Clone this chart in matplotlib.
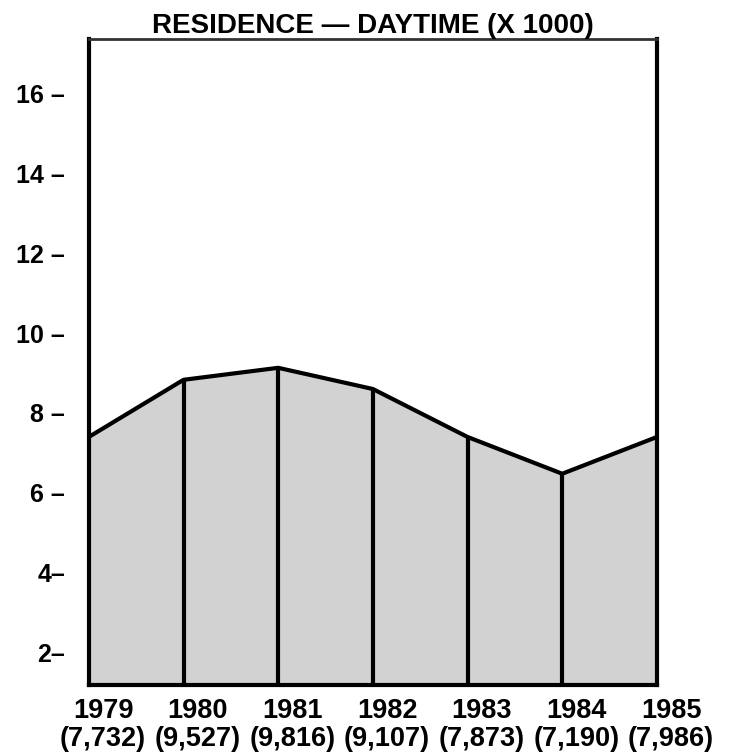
import matplotlib
matplotlib.use('Agg')
from matplotlib import pyplot as plt
from matplotlib import transforms

plt.rcParams['font.family'] = ['Liberation Sans', 'DejaVu Sans']
plt.rcParams['font.weight'] = 'bold'

# data
years = ['1979', '1980', '1981', '1982', '1983', '1984', '1985']
counts = ['7,732', '9,527', '9,816', '9,107', '7,873', '7,190', '7,986']
heights = [7.4, 8.83, 9.13, 8.6, 7.4, 6.48, 7.4]   # plotted level (x 1000)
ytick_vals = [2, 4, 6, 8, 10, 12, 14, 16]
ytick_text = ['2–', '4–', '6 –', '8 –', '10 –', '12 –', '14 –', '16 –']

fig = plt.figure(figsize=(7.34, 7.55), dpi=100)
ax = fig.add_axes([0.121, 0.093, 0.774, 0.855])

x = list(range(len(years)))
ymin, ymax = 1.2, 17.35

ax.fill_between(x, heights, ymin, color='#d2d2d2', lw=0)
ax.plot(x, heights, color='black', lw=3, solid_joinstyle='round')
ax.vlines(x[1:-1], ymin, heights[1:-1], color='black', lw=3)

ax.set_xlim(0, len(years) - 1)
ax.set_ylim(ymin, ymax)

for s in ['left', 'right', 'bottom']:
    ax.spines[s].set_linewidth(3)
ax.spines['top'].set_linewidth(2)
ax.spines['top'].set_color('#333333')

ax.set_xticks([])
ax.set_yticks(ytick_vals)
ax.set_yticklabels(ytick_text, fontsize=18, fontweight='bold')
ax.tick_params(axis='y', length=0, pad=17)

trans = transforms.blended_transform_factory(ax.transData, ax.transAxes)
for i in x:
    ax.text(i + 0.15, -0.02, years[i] + '\n(' + counts[i] + ')', transform=trans,
            ha='center', va='top', fontsize=19.5, fontweight='bold',
            linespacing=1.1, clip_on=False)

ax.set_title('RESIDENCE — DAYTIME (X 1000)', fontsize=20, fontweight='bold', pad=4)

fig.savefig('out.png', dpi=100)
